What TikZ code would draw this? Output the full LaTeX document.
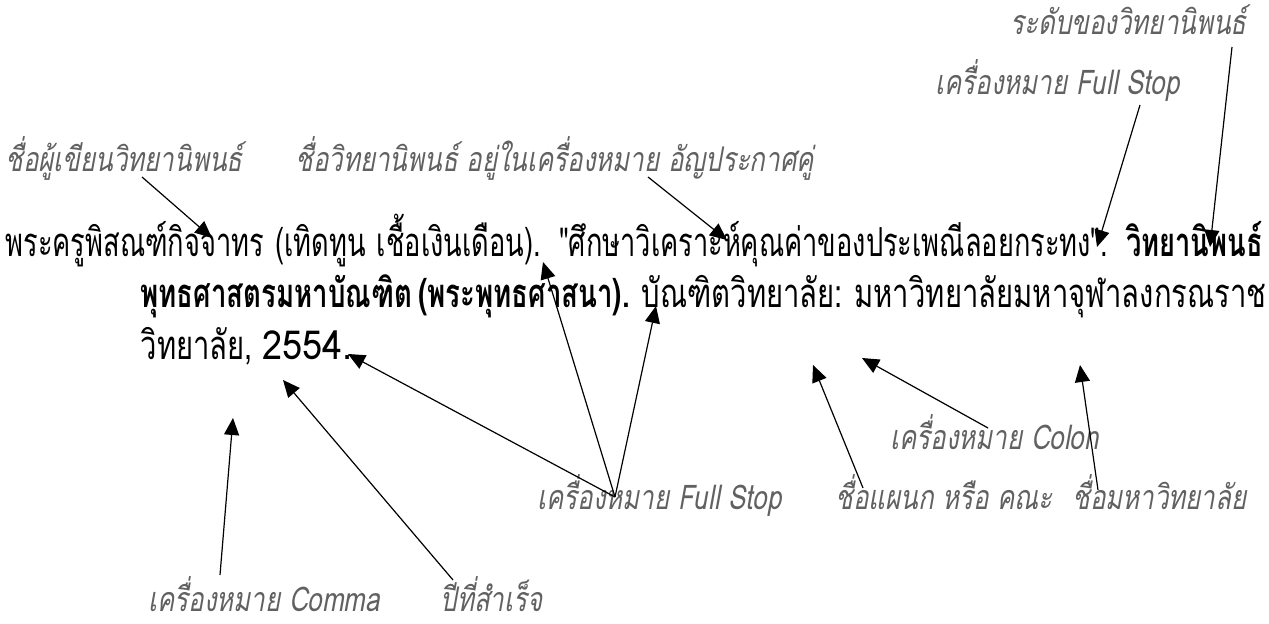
\documentclass[tikz,border=0pt]{standalone}
\usepackage{fontspec}
\usepackage{tikz}
\usetikzlibrary{arrows.meta}
\newfontfamily\thaimain[Script=Thai,FakeStretch=0.68,BoldFeatures={FakeStretch=0.68}]{Loma}
\newfontfamily\thailine[Script=Thai,FakeStretch=0.73,BoldFeatures={FakeStretch=0.69}]{Loma}
\newfontfamily\thaiwide[Script=Thai,FakeStretch=0.9]{Loma}
\newfontfamily\thainote[Script=Thai,FakeStretch=0.76,FakeSlant=0.18]{Loma}

\begin{document}
\begin{tikzpicture}[x=0.5pt,y=-0.5pt,-{Triangle[length=8.5pt,width=7.5pt]},line width=0.6pt]
   \useasboundingbox (0,0) rectangle (1269,624);
   \tikzstyle{ref}=[anchor=base west, inner sep=0pt, font=\thaimain\fontsize{20pt}{24pt}\selectfont]
   \tikzstyle{note}=[anchor=base west, inner sep=0pt, text=black!62, font=\thainote\fontsize{17pt}{20pt}\selectfont]
   \node[ref] (line1) at (5,257) {\makebox[628.5pt][s]{พระครูพิสณฑ์กิจจาทร (เทิดทูน เชื้อเงินเดือน). "ศึกษาวิเคราะห์คุณค่าของประเพณีลอยกระทง". \textbf{วิทยานิพนธ์}}};
   \node[ref] (line2) at (140,308) {\thailine\makebox[561pt][s]{\textbf{พุทธศาสตรมหาบัณฑิต (พระพุทธศาสนา).} บัณฑิตวิทยาลัย: มหาวิทยาลัยมหาจุฬาลงกรณราช}};
   \node[ref] (line3) at (140,360) {\thailine วิทยาลัย, {\thaiwide 2554.}};
   \node[note] (level) at (1010,35) {ระดับของวิทยานิพนธ์};
   \node[note] (stoptop) at (935,95) {เครื่องหมาย Full Stop};
   \node[note] (author) at (5,172) {ชื่อผู้เขียนวิทยานิพนธ์};
   \node[note] (title) at (295,172) {ชื่อวิทยานิพนธ์ อยู่ในเครื่องหมาย อัญประกาศคู่};
   \node[note] (colon) at (890,450) {เครื่องหมาย Colon};
   \node[note] (stopbot) at (537,510) {เครื่องหมาย Full Stop};
   \node[note] (dept) at (835,510) {ชื่อแผนก หรือ คณะ};
   \node[note] (uni) at (1072,510) {ชื่อมหาวิทยาลัย};
   \node[note] (comma) at (148,611) {เครื่องหมาย Comma};
   \node[note] (year) at (440,611) {ปีที่สำเร็จ};
   \coordinate (hub) at (615,497);
   \foreach \n/\tx/\ty/\hx/\hy in {a/142/177/212/238, t/648/177/727/240, s/1140/105/1097/247,
       l/1232/47/1210/247, c/220/575/233/418, y/453/580/283/380, d/863/488/813/365,
       k/988/428/862/358, u/1098/490/1080/365} {
       \coordinate (from\n) at (\tx,\ty);
       \coordinate (to\n) at (\hx,\hy);
       \path (from\n) edge (to\n);
   }
   \foreach \hx/\hy [count=\i] in {543/262, 656/306, 348/354} {
       \coordinate (stop\i) at (\hx,\hy);
       \path (hub) edge (stop\i);
   }
\end{tikzpicture}
\end{document}
